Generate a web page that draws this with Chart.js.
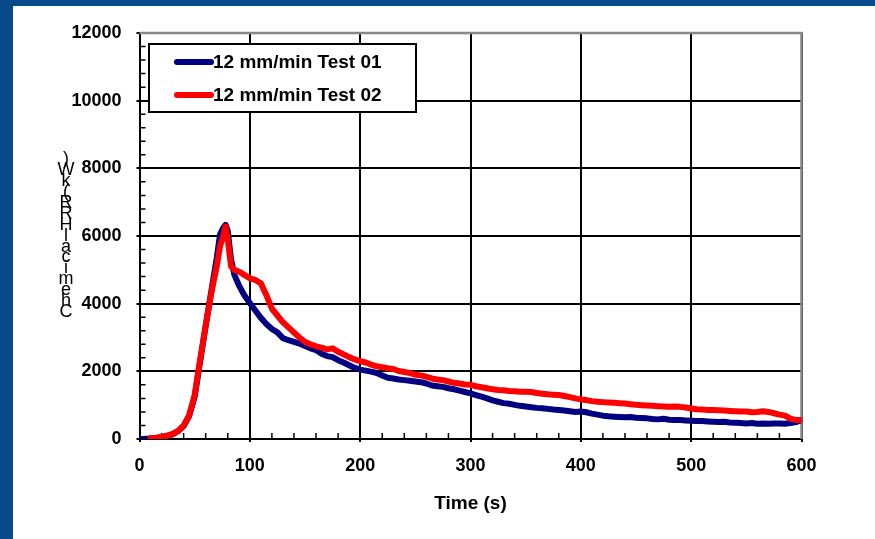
<!DOCTYPE html>
<html>
<head>
<meta charset="utf-8">
<script src="https://cdn.jsdelivr.net/npm/chart.js@4.4.1/dist/chart.umd.min.js"></script>
<style>
  body { margin: 0; background: #fff; }
  #wrap { position: relative; width: 875px; height: 539px; }
  .band { position: absolute; background: #064a8b; }
</style>
</head>
<body>
<div id="wrap">
  <canvas id="hrrChart" width="875" height="539"></canvas>
  <div class="band" style="left:0;top:0;width:13px;height:539px"></div>
  <div class="band" style="left:0;top:0;width:875px;height:6px"></div>
</div>
<script>
// time base (s) shared by both tests
const timeSec = [
  0, 5, 10, 15, 20, 25, 30, 35, 40, 45, 50, 55, 60, 65, 70, 73, 76, 78, 80, 83, 86, 90, 95,
  100, 105, 110, 115, 120, 125, 130, 135, 140, 145, 150, 155, 160, 165, 170, 175, 180, 185, 190, 195,
  200, 205, 210, 215, 220, 225, 230, 235, 240, 245, 250, 255, 260, 265, 270, 275, 280, 285, 290, 295,
  300, 305, 310, 315, 320, 325, 330, 335, 340, 345, 350, 355, 360, 365, 370, 375, 380, 385, 390, 395,
  400, 405, 410, 415, 420, 425, 430, 435, 440, 445, 450, 455, 460, 465, 470, 475, 480, 485, 490, 495,
  500, 505, 510, 515, 520, 525, 530, 535, 540, 545, 550, 555, 560, 565, 570, 575, 580, 585, 590, 595,
  600
];

// chemical HRR (kW), test 01
const test01 = [
  0, 5, 15, 30, 55, 90, 140, 230, 380, 680, 1250, 2300, 3350, 4350, 5350, 6050, 6250, 6330, 6150, 5300, 4850, 4550, 4250,
  4020, 3800, 3580, 3400, 3250, 3150, 2980, 2920, 2870, 2820, 2750, 2680, 2630, 2520, 2450, 2420, 2330, 2260, 2180, 2100,
  2050, 2020, 1990, 1950, 1880, 1810, 1790, 1760, 1740, 1720, 1700, 1680, 1640, 1580, 1560, 1540, 1500, 1470, 1430, 1390,
  1350, 1300, 1250, 1200, 1140, 1100, 1060, 1040, 1010, 980, 960, 940, 920, 910, 890, 870, 860, 840, 820, 800,
  810, 790, 750, 720, 690, 670, 660, 650, 640, 650, 630, 620, 610, 590, 580, 600, 570, 560, 560, 550,
  540, 530, 530, 520, 510, 500, 510, 490, 480, 470, 460, 470, 450, 460, 450, 460, 460, 450, 470, 500,
  560
];

// chemical HRR (kW), test 02 (logging starts a little later)
const test02 = [
  null, null, 30, 40, 60, 95, 150, 240, 400, 700, 1300, 2350, 3350, 4300, 5100, 5700, 6000, 6280, 5900, 5100, 5000, 4950, 4850,
  4750, 4700, 4600, 4250, 3850, 3650, 3450, 3300, 3150, 3000, 2870, 2800, 2740, 2700, 2650, 2680, 2580, 2500, 2420, 2350,
  2300, 2260, 2200, 2150, 2120, 2090, 2070, 2010, 1980, 1950, 1900, 1880, 1840, 1790, 1760, 1740, 1700, 1660, 1640, 1610,
  1600, 1560, 1530, 1500, 1470, 1450, 1440, 1420, 1410, 1400, 1400, 1390, 1360, 1340, 1320, 1310, 1300, 1270, 1240, 1200,
  1170, 1150, 1120, 1100, 1090, 1080, 1070, 1060, 1050, 1030, 1010, 1000, 990, 980, 970, 960, 950, 960, 950, 930,
  900, 880, 870, 860, 860, 850, 840, 830, 820, 810, 810, 790, 800, 820, 800, 760, 720, 690, 600, 560,
  560
];

const seriesNames = ['12 mm/min Test 01', '12 mm/min Test 02'];
const seriesColors = ['#000080', '#ff0000'];
const yTitle = 'Chemical HRR (kW)';
const xTitle = 'Time (s)';

const toPoints = vals => timeSec.map((t, i) => ({ x: t, y: vals[i] })).filter(p => p.y !== null);

const FONT = '"Liberation Sans", Arial, sans-serif';

// minor ticks inside the plot, grey frame top/right
const frameTicks = {
  id: 'frameTicks',
  beforeDatasetsDraw(chart) {
    const { ctx, chartArea: a, scales: { x, y } } = chart;
    ctx.save();
    ctx.strokeStyle = '#000';
    ctx.lineWidth = 1.5;
    ctx.beginPath();
    for (let t = 0; t <= 600; t += 20) {
      if (t % 100 === 0) continue;
      const px = x.getPixelForValue(t);
      ctx.moveTo(px, a.bottom);
      ctx.lineTo(px, a.bottom - 6);
    }
    for (let v = 0; v <= 12000; v += 400) {
      if (v % 2000 === 0) continue;
      const py = y.getPixelForValue(v);
      ctx.moveTo(a.left, py);
      ctx.lineTo(a.left + 6, py);
    }
    ctx.stroke();
    ctx.strokeStyle = '#888';
    ctx.lineWidth = 2.5;
    ctx.beginPath();
    ctx.moveTo(a.left, a.top);
    ctx.lineTo(a.right, a.top);
    ctx.lineTo(a.right, a.bottom);
    ctx.stroke();
    ctx.restore();
  }
};

// boxed legend in the upper left of the plot
const boxLegend = {
  id: 'boxLegend',
  afterDraw(chart) {
    const { ctx, chartArea: a } = chart;
    const bx = a.left + 9.5, by = a.top + 11, bw = 267, bh = 68;
    ctx.save();
    ctx.fillStyle = '#fff';
    ctx.fillRect(bx, by, bw, bh);
    ctx.strokeStyle = '#000';
    ctx.lineWidth = 2;
    ctx.strokeRect(bx, by, bw, bh);
    ctx.font = 'bold 19px ' + FONT;
    ctx.textBaseline = 'middle';
    ctx.lineCap = 'round';
    seriesNames.forEach((name, i) => {
      const cy = by + 18 + i * 33;
      ctx.strokeStyle = seriesColors[i];
      ctx.lineWidth = 6;
      ctx.beginPath();
      ctx.moveTo(bx + 28, cy);
      ctx.lineTo(bx + 62, cy);
      ctx.stroke();
      ctx.fillStyle = '#000';
      ctx.fillText(name, bx + 64, cy + 1);
    });
    ctx.restore();
  }
};

// y title, characters stacked upright from bottom to top
const stackedTitle = {
  id: 'stackedTitle',
  afterDraw(chart) {
    const { ctx } = chart;
    const chars = yTitle.split('').filter(c => c !== ' ');
    ctx.save();
    ctx.font = '18px ' + FONT;
    ctx.fillStyle = '#000';
    ctx.textAlign = 'center';
    ctx.textBaseline = 'middle';
    chars.forEach((c, i) => {
      ctx.fillText(c, 66, 312 - i * 10.9);
    });
    ctx.restore();
  }
};

new Chart(document.getElementById('hrrChart').getContext('2d'), {
  type: 'line',
  data: {
    datasets: [
      { label: seriesNames[0], data: toPoints(test01), borderColor: seriesColors[0], order: 1 },
      { label: seriesNames[1], data: toPoints(test02), borderColor: seriesColors[1], order: 0 }
    ]
  },
  options: {
    responsive: false,
    animation: false,
    layout: { padding: { left: 0, top: 33, right: 73.5, bottom: 0 } },
    elements: {
      point: { radius: 0 },
      line: { borderWidth: 6, tension: 0, borderCapStyle: 'round', borderJoinStyle: 'round', fill: false }
    },
    plugins: { legend: { display: false }, tooltip: { enabled: false } },
    scales: {
      x: {
        type: 'linear',
        min: 0,
        max: 600,
        afterFit(s) { s.height = 100; },
        ticks: { stepSize: 100, color: '#000', padding: 13, maxRotation: 0, font: { family: FONT, size: 18, weight: 'bold' } },
        grid: { color: '#000', lineWidth: 2, tickLength: 3 },
        border: { color: '#000', width: 2 },
        title: { display: true, text: xTitle, color: '#000', padding: { top: 0, bottom: 24 }, font: { family: FONT, size: 19, weight: 'bold' } }
      },
      y: {
        min: 0,
        max: 12000,
        afterFit(s) { s.width = 139.5; },
        ticks: { stepSize: 2000, color: '#000', padding: 15, callback: v => String(v), font: { family: FONT, size: 18, weight: 'bold' } },
        grid: { color: '#000', lineWidth: 2, tickLength: 3 },
        border: { color: '#000', width: 2 }
      }
    }
  },
  plugins: [frameTicks, boxLegend, stackedTitle]
});
</script>
</body>
</html>
